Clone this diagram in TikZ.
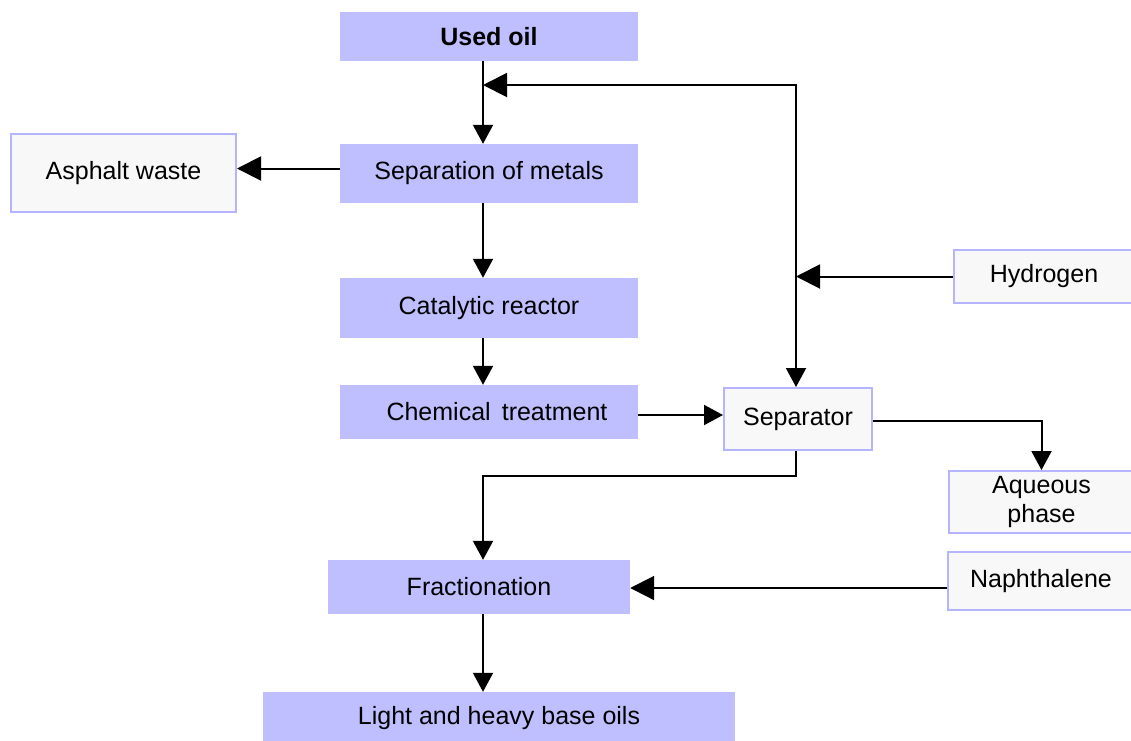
\documentclass[tikz,border=0pt]{standalone}
\usepackage{fontspec}
\setmainfont{Liberation Sans}
\usetikzlibrary{arrows.meta}
\definecolor{stepfill}{RGB}{191,191,255}
\definecolor{sidefill}{RGB}{248,248,248}
\definecolor{sideline}{RGB}{180,180,255}
\begin{document}
\begin{tikzpicture}[x=1pt,y=-1pt,
  every node/.style={inner sep=0pt,font=\fontsize{25}{29}\selectfont},
  stepbox/.style={fill=stepfill,minimum width=#1},
  sidebox/.style={fill=sidefill,draw=sideline,line width=2pt,minimum width=#1},
  arr/.style={-{Triangle[length=19pt,width=20pt]},line width=2pt},
  bigarr/.style={-{Triangle[length=24pt,width=24pt]},line width=2pt}]
\useasboundingbox (0,0) rectangle (1131,740);

% main process steps
\node[stepbox=298,minimum height=49] (used) at (489,36.5) {\bfseries Used oil};
\node[stepbox=298,minimum height=59] (sepm) at (489,173.5) {Separation of metals};
\node[stepbox=298,minimum height=60] (cat)  at (489,308) {Catalytic reactor};
\node[stepbox=298,minimum height=54] (chem) at (489,412) {\hspace*{16pt}Chemical\, treatment};
\node[stepbox=302,minimum height=54] (frac) at (479,587) {Fractionation};
\node[stepbox=472,minimum height=53] (light) at (499,718.5) {Light and heavy base oils};

% side streams
\node[sidebox=225,minimum height=78] (asph) at (123.5,173) {Asphalt waste};
\node[sidebox=148,minimum height=62] (sep)  at (798,419) {Separator};
\node[sidebox=180,minimum height=53] (hyd)  at (1044,276.5) {\raisebox{-5pt}{Hydrogen}};
\node[sidebox=185,minimum height=62,align=center] (aq) at (1041.5,502) {Aqueous\\phase};
\node[sidebox=186,minimum height=58] (naph) at (1041,581) {Naphthalene};

% junctions of the recycle line
\coordinate (fb) at (483,85);
\coordinate (hj) at (796,276.5);
\coordinate (s2) at (483,476);

% connectors
\draw[arr] (used.south -| fb) -- (sepm.north -| fb);
\draw[bigarr] (hyd.west) -- (hj);
\draw[bigarr] (hj) |- (fb);
\draw[arr] (hj) -- (hj |- sep.north);
\draw[bigarr] ([yshift=5pt]sepm.west) -- ([yshift=5pt]sepm.west -| asph.east);
\draw[arr] (sepm.south -| fb) -- (cat.north -| fb);
\draw[arr] (cat.south -| fb) -- (chem.north -| fb);
\draw[arr] ([yshift=-3pt]chem.east) -- ([yshift=-3pt]chem.east -| sep.west);
\draw[arr] ([yshift=-2pt]sep.east) -| (aq.north);
\draw[arr] (sep.south -| hj) |- (s2) -- (frac.north -| s2);
\draw[bigarr] ([yshift=-7pt]naph.west) -- ([yshift=-7pt]naph.west -| frac.east);
\draw[arr] (frac.south -| fb) -- (light.north -| fb);
\end{tikzpicture}
\end{document}
